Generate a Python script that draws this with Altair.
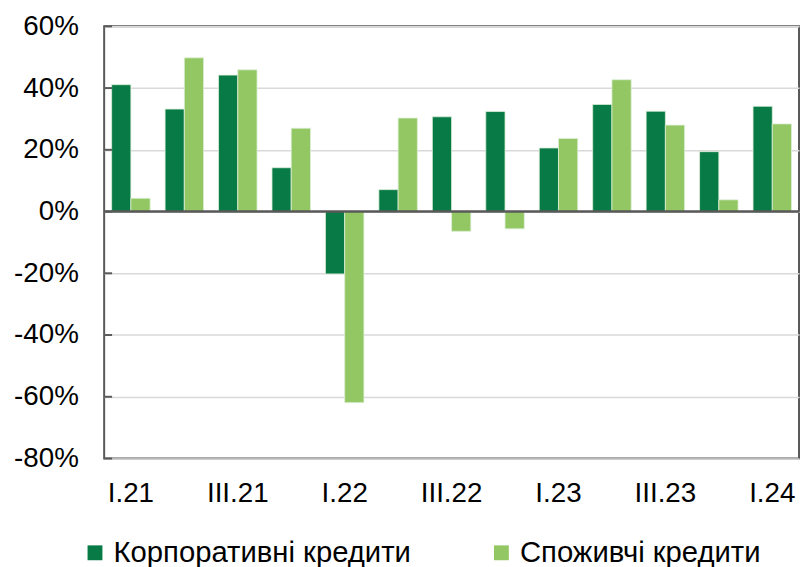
import altair as alt
import pandas as pd

quarters = ["I.21", "II.21", "III.21", "IV.21", "I.22", "II.22", "III.22", "IV.22",
            "I.23", "II.23", "III.23", "IV.23", "I.24"]
corporate = [41.1, 33.2, 44.2, 14.2, -20.2, 7.1, 30.7, 32.4, 20.6, 34.7, 32.5, 19.4, 34.1]
consumer = [4.3, 49.8, 45.9, 27.0, -61.9, 30.3, -6.4, -5.6, 23.7, 42.7, 28.0, 3.8, 28.4]
series_names = ["Корпоративні кредити", "Споживчі кредити"]
series_colors = ["#077A45", "#92C763"]
x_label_values = ["I.21", "III.21", "I.22", "III.22", "I.23", "III.23", "I.24"]
y_ticks = [-80, -60, -40, -20, 0, 20, 40, 60]

rows = []
for q, c, s in zip(quarters, corporate, consumer):
    rows.append({"q": q, "series": series_names[0], "v": c})
    rows.append({"q": q, "series": series_names[1], "v": s})
df = pd.DataFrame(rows)

FONT = "Liberation Sans"
FS = 28
W, H = 701, 436

xscale = alt.Scale(domain=quarters, paddingInner=0.28, paddingOuter=0.14)
yscale = alt.Scale(domain=[-80, 60], nice=False)

bars = alt.Chart(df).mark_bar(stroke="#DDEFD8", strokeWidth=0.8).encode(
    x=alt.X("q:N", sort=quarters, scale=xscale,
            axis=alt.Axis(title=None, values=x_label_values, labelAngle=0, ticks=False,
                          domain=False, labelFont=FONT, labelFontSize=FS,
                          labelColor="#000000", labelPadding=21)),
    xOffset=alt.XOffset("series:N", sort=series_names, scale=alt.Scale(paddingInner=0, paddingOuter=0)),
    y=alt.Y("v:Q", scale=yscale,
            axis=alt.Axis(title=None, values=y_ticks, labelExpr="datum.value + '%'",
                          ticks=False, domain=False, grid=True, gridColor="#D9D9D9",
                          gridWidth=1.5, labelFont=FONT, labelFontSize=FS,
                          labelColor="#000000", labelPadding=26)),
    color=alt.Color("series:N", sort=series_names,
                    scale=alt.Scale(domain=series_names, range=series_colors),
                    legend=alt.Legend(title=None, orient="none", direction="horizontal",
                                      legendX=-24, legendY=516, symbolType="square",
                                      symbolSize=225, symbolStrokeWidth=0,
                                      labelFont=FONT, labelFontSize=29.5, labelLimit=500,
                                      labelColor="#000000", columnPadding=76,
                                      labelOffset=4)),
)

tick_df = pd.DataFrame({"t": y_ticks})
ticks = alt.Chart(tick_df).mark_rule(color="#595959", strokeWidth=2).encode(
    x=alt.value(0), x2=alt.value(8), y=alt.Y("t:Q", scale=yscale)
)

zero = alt.Chart(pd.DataFrame({"z": [0]})).mark_rule(color="#595959", strokeWidth=2.5).encode(
    y=alt.Y("z:Q", scale=yscale)
)

chart = alt.layer(bars, ticks, zero).properties(
    width=W, height=H,
    autosize=alt.AutoSizeParams(type="none"),
    padding={"left": 97, "top": 16, "right": 1, "bottom": 113},
    background="#FFFFFF",
).configure_view(stroke="#595959", strokeWidth=2)

chart.save("out.html", embed_options={"renderer": "svg", "actions": False})
